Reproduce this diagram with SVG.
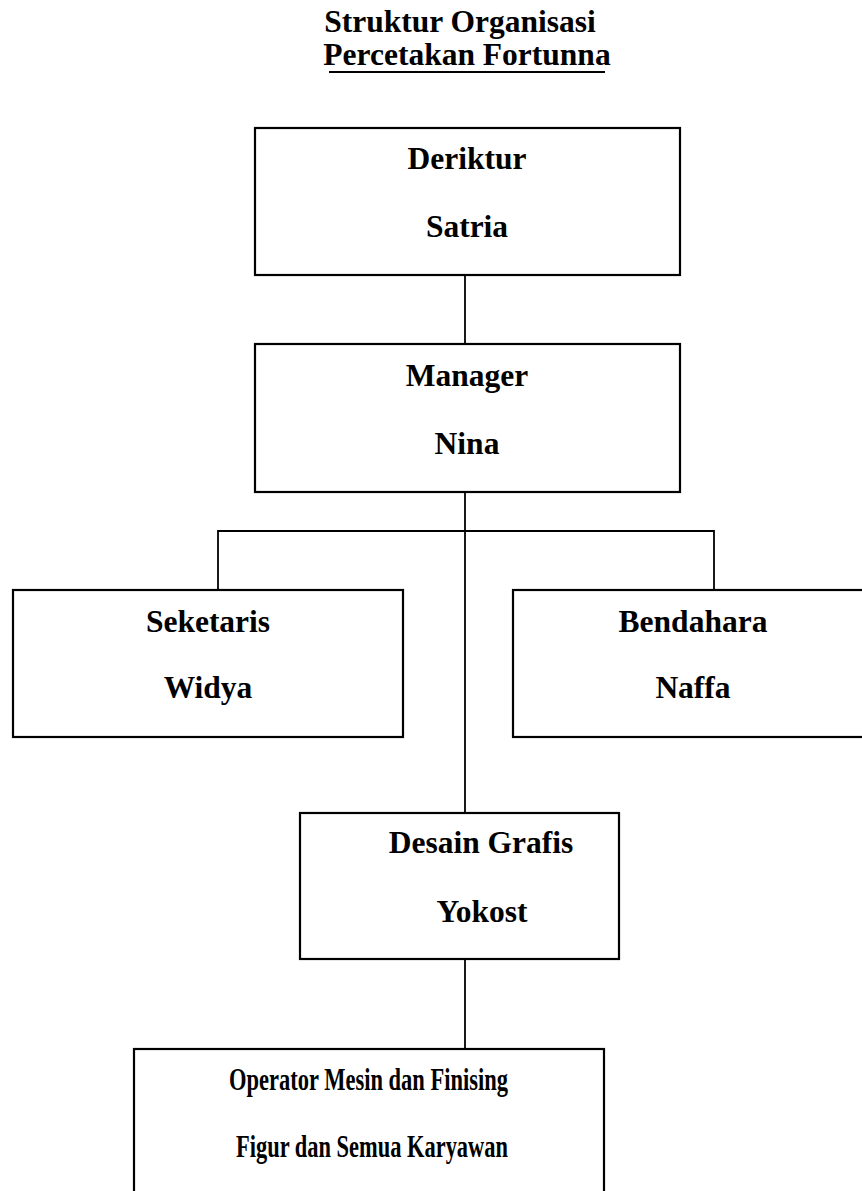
<svg xmlns="http://www.w3.org/2000/svg" width="862" height="1191" viewBox="0 0 862 1191">
  <style>
    .box { fill: #ffffff; stroke: #000000; stroke-width: 2.2; }
    .link { fill: none; stroke: #000000; stroke-width: 1.8; }
    .lbl { font-family: "Liberation Serif", "Times New Roman", serif; font-weight: bold; font-size: 31.5px; fill: #000000; text-anchor: middle; }
    .lbl-start { font-family: "Liberation Serif", "Times New Roman", serif; font-weight: bold; font-size: 31.5px; fill: #000000; }
  </style>
  <rect width="862" height="1191" fill="#ffffff"/>

  <!-- title -->
  <g id="title">
    <text class="lbl" x="460" y="32">Struktur Organisasi</text>
    <text class="lbl" x="467" y="65">Percetakan Fortunna</text>
    <line x1="329" y1="72" x2="605" y2="72" stroke="#000000" stroke-width="2"/>
  </g>

  <!-- connectors -->
  <g id="connectors">
    <line class="link" x1="465" y1="275" x2="465" y2="344"/>
    <line class="link" x1="465" y1="492" x2="465" y2="813"/>
    <polyline class="link" points="218,590 218,531 714,531 714,590"/>
    <line class="link" x1="465" y1="959" x2="465" y2="1049"/>
  </g>

  <!-- Deriktur -->
  <g id="node-deriktur">
    <rect class="box" x="255" y="128" width="425" height="147"/>
    <text class="lbl" x="467" y="169">Deriktur</text>
    <text class="lbl" x="467" y="237">Satria</text>
  </g>

  <!-- Manager -->
  <g id="node-manager">
    <rect class="box" x="255" y="344" width="425" height="148"/>
    <text class="lbl" x="467" y="386">Manager</text>
    <text class="lbl" x="467" y="454">Nina</text>
  </g>

  <!-- Seketaris -->
  <g id="node-seketaris">
    <rect class="box" x="13" y="590" width="390" height="147"/>
    <text class="lbl" x="208" y="632">Seketaris</text>
    <text class="lbl" x="208" y="698">Widya</text>
  </g>

  <!-- Bendahara -->
  <g id="node-bendahara">
    <rect class="box" x="513" y="590" width="361" height="147"/>
    <text class="lbl" x="693" y="632">Bendahara</text>
    <text class="lbl" x="693" y="698">Naffa</text>
  </g>

  <!-- Desain Grafis -->
  <g id="node-desain">
    <rect class="box" x="300" y="813" width="319" height="146"/>
    <text class="lbl" x="481" y="853">Desain Grafis</text>
    <text class="lbl" x="482" y="922">Yokost</text>
  </g>

  <!-- Operator -->
  <g id="node-operator">
    <rect class="box" x="134" y="1049" width="470" height="160"/>
    <text class="lbl-start" x="229" y="1090" textLength="279" lengthAdjust="spacingAndGlyphs">Operator Mesin dan Finising</text>
    <text class="lbl-start" x="236" y="1157" textLength="272" lengthAdjust="spacingAndGlyphs">Figur dan Semua Karyawan</text>
  </g>
</svg>
